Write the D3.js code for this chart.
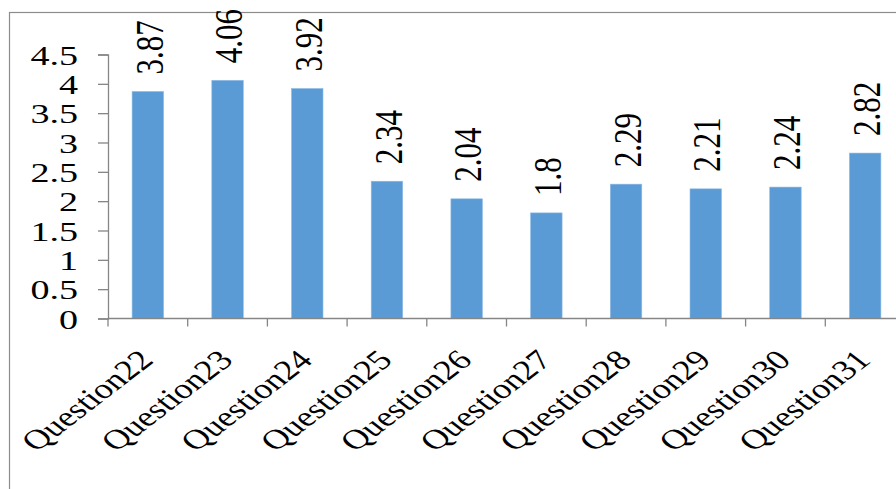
<!DOCTYPE html>
<html>
<head>
<meta charset="utf-8">
<script src="https://cdn.jsdelivr.net/npm/d3@7"></script>
<style>
  html, body { margin: 0; padding: 0; background: #fff; }
  svg { display: block; }
</style>
</head>
<body>
<svg id="chart" width="896" height="489"></svg>
<script>
// Mean scores per question
const questions = ["Question22", "Question23", "Question24", "Question25", "Question26",
                   "Question27", "Question28", "Question29", "Question30", "Question31"];
const scores = [3.87, 4.06, 3.92, 2.34, 2.04, 1.8, 2.29, 2.21, 2.24, 2.82];
const yTicks = [0, 0.5, 1, 1.5, 2, 2.5, 3, 3.5, 4, 4.5];

const FONT = "'Liberation Serif', 'Times New Roman', serif";
const stretch = 1.3;           // horizontal widening of the rotated labels
const tickStretch = 1.36;      // horizontal widening of the y tick labels
const barColor = "#5b9bd5";
const axisColor = "#868686";

const svg = d3.select("#chart");

// outer frame (runs off the right and bottom edges)
svg.append("rect")
  .attr("x", 9.5).attr("y", 12.5)
  .attr("width", 1000).attr("height", 1000)
  .attr("fill", "none").attr("stroke", "#8c8c8c").attr("stroke-width", 1.2);

const x = d3.scaleBand().domain(questions).range([108, 905]).padding(0);
const y = d3.scaleLinear().domain([0, 4.5]).range([318.5, 54.5]);
const barW = x.bandwidth() * 0.395;
const cx = (d) => x(d) + x.bandwidth() / 2;

// bars
svg.append("g").selectAll("rect")
  .data(questions)
  .join("rect")
  .attr("x", (d) => cx(d) - barW / 2)
  .attr("y", (d, i) => y(scores[i]))
  .attr("width", barW)
  .attr("height", (d, i) => y(0) - y(scores[i]))
  .attr("fill", barColor)
  .attr("stroke", "#8dbbe6").attr("stroke-width", 0.6);

// value labels, rotated
svg.append("g").selectAll("text")
  .data(questions)
  .join("text")
  .attr("transform", (d, i) =>
    `translate(${cx(d) + 1},${y(scores[i]) - 17}) scale(${stretch},1) rotate(-90)`)
  .attr("dy", "0.34em")
  .attr("font-family", FONT)
  .attr("font-size", 31)
  .attr("fill", "#000")
  .text((d, i) => scores[i]);

// y axis
const yAxis = svg.append("g")
  .attr("transform", "translate(108,0)")
  .call(d3.axisLeft(y).tickValues(yTicks).tickSize(10).tickFormat(d3.format("")));
yAxis.select(".domain").attr("stroke", axisColor).attr("stroke-width", 1.3);
yAxis.selectAll(".tick line").attr("stroke", axisColor).attr("stroke-width", 1.3);
yAxis.selectAll(".tick text")
  .attr("x", null)
  .attr("dy", "0.34em")
  .attr("transform", `translate(-30,0) scale(${tickStretch},1)`)
  .attr("font-size", 28)
  .attr("font-family", FONT)
  .attr("fill", "#000");

// x axis: line plus ticks on category boundaries
const xg = svg.append("g");
const y0 = y(0);
const edges = d3.range(questions.length + 1).map((i) => x.range()[0] + i * x.step());
xg.append("line")
  .attr("x1", 108).attr("x2", 910).attr("y1", y0).attr("y2", y0)
  .attr("stroke", axisColor).attr("stroke-width", 1.3);
xg.selectAll("line.tick")
  .data(edges)
  .join("line")
  .attr("class", "tick")
  .attr("x1", (d) => d).attr("x2", (d) => d)
  .attr("y1", y0).attr("y2", y0 + 8)
  .attr("stroke", axisColor).attr("stroke-width", 1.3);

// category labels, rotated -45
xg.selectAll("text")
  .data(questions)
  .join("text")
  .attr("transform", (d) =>
    `translate(${cx(d) + 7},${y0 + 43}) scale(${stretch},1) rotate(-45)`)
  .attr("text-anchor", "end")
  .attr("font-family", FONT)
  .attr("font-size", 28)
  .attr("fill", "#000")
  .text((d) => d);
</script>
</body>
</html>
